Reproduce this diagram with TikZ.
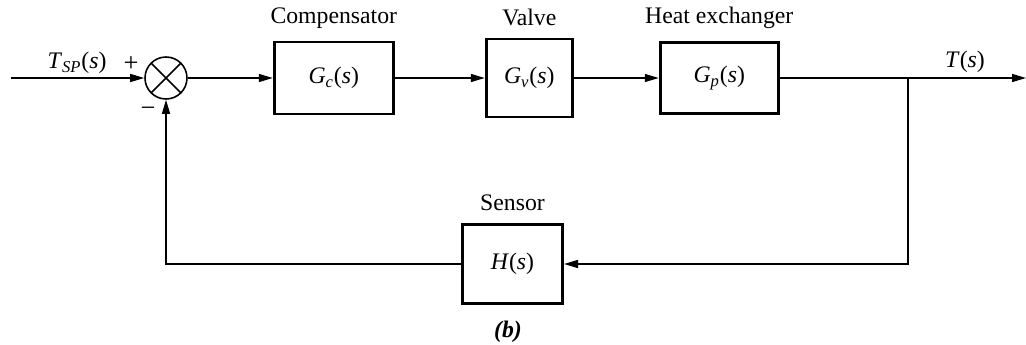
\documentclass[tikz,border=0pt]{standalone}
\usepackage{fontspec}
\setmainfont{Liberation Serif}
\usetikzlibrary{arrows.meta, positioning}

\newcommand{\tfn}[2]{\textit{#1}\textsubscript{\textit{#2}}(\textit{s})}

\begin{document}
\begin{tikzpicture}[
font=\fontsize{13.5}{15}\selectfont,
node distance=1.7cm,
box/.style={draw, line width=1.7pt, rectangle, minimum height=1.44cm, inner sep=0pt},
junction/.style={draw, line width=0.9pt, circle, minimum size=0.84cm, inner sep=0pt,
  path picture={\draw[line width=0.9pt] (path picture bounding box.north west) -- (path picture bounding box.south east)
  (path picture bounding box.north east) -- (path picture bounding box.south west);}},
arrow/.style={-{Triangle[length=2.8mm, width=1.6mm]}, line width=0.8pt},
label/.style={inner sep=1pt}
]
\useasboundingbox (0,0) rectangle (20.52,-6.9);

\coordinate (input) at (0.22,-1.56);
\node[junction] (sum) at (3.32,-1.56) {};

\node[box, minimum width=2.38cm, right=1.7cm of sum] (comp) {\tfn{G}{c}};
\node[box, minimum width=1.72cm, minimum height=1.56cm, right=1.8cm of comp] (valve) {\tfn{G}{v}};
\node[box, minimum width=2.36cm, minimum height=1.42cm, right=1.7cm of valve] (exch) {\tfn{G}{p}};

\coordinate (branch) at (18.16,-1.56);
\coordinate (output) at (20.52,-1.56);

\node[box, minimum width=2.0cm, minimum height=1.58cm] (sensor) at (10.25,-5.28) {\textit{H}(\textit{s})};

% block titles
\node[label, above=0.2cm of comp] (comptitle) {Compensator};
\node[label, above=0.2cm of valve] (valvetitle) {Valve};
\node[label, above=0.2cm of exch] (exchtitle) {Heat exchanger};
\node[label, above=0.2cm of sensor] (sensortitle) {Sensor};

% signals
\node[label] (setpoint) at (1.54,-1.26) {\textit{T}\textsubscript{\textit{SP}}(\textit{s})};
\node[label] (temp) at (19.3,-1.24) {\textit{T}(\textit{s})};
\node[label, font=\fontsize{15}{15}\selectfont] (plus) at (2.62,-1.28) {+};
\node[label, font=\fontsize{15}{15}\selectfont] (minus) at (2.96,-2.24) {−};
\node[label] (caption) at (10.16,-6.64) {\textbf{\textit{(b)}}};

\draw[arrow] (input) -- (sum);
\draw[arrow] (sum) -- (comp);
\draw[arrow] (comp) -- (valve);
\draw[arrow] (valve) -- (exch);
\draw[arrow] (exch) -- (output);
\draw[arrow] (branch) |- (sensor);
\draw[arrow] (sensor) -| (sum);

\end{tikzpicture}
\end{document}
